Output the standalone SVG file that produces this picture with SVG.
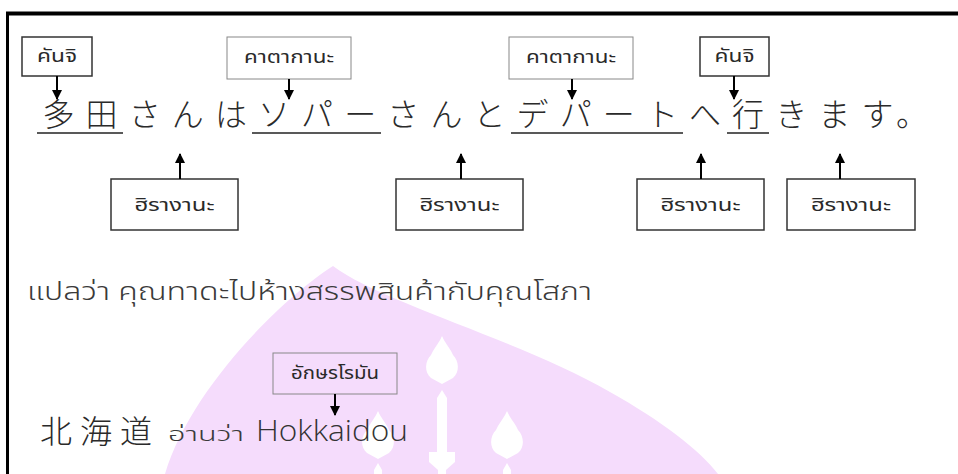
<svg xmlns="http://www.w3.org/2000/svg" xmlns:xlink="http://www.w3.org/1999/xlink" width="958" height="474" viewBox="0 0 958 474">
<defs>
<style>
.box-dark{fill:none;stroke:#333;stroke-width:1.5}
.box-gray{fill:none;stroke:#888;stroke-width:1}
.lbl{font-family:"Noto Sans Thai","Noto Sans",sans-serif;font-size:17px;font-weight:400;fill:#2a2a2a;text-anchor:middle}
.jp{font-family:"Noto Sans CJK JP","Noto Sans CJK SC",sans-serif;font-size:32px;font-weight:300;fill:#2a2a2a;text-anchor:middle}
.ul{stroke:#222;stroke-width:1.5}
.arr{stroke:#000;stroke-width:2;fill:none}
.th{font-family:"Noto Sans Thai","Noto Sans",sans-serif;font-weight:300;fill:#3a3a3a}
</style>
<marker id="ah" viewBox="0 0 10 10" refX="9" refY="5" markerWidth="5" markerHeight="5" orient="auto" markerUnits="strokeWidth">
<path d="M0,0 L10,5 L0,10 Z" fill="#000"/>
</marker>
<path id="leaf" d="M0,0 C2,5 6,10 9,15 L11,19 C17,25 18,36 11,42 L0,48 L-11,42 C-18,36 -17,25 -11,19 L-9,15 C-6,10 -2,5 0,0 Z" fill="#fff"/>
</defs>

<g id="watermark">
<path d="M333,266 C380,302 520,340 610,392 C660,420 700,450 718,474 L165,474 C190,390 280,300 333,266 Z" fill="#f5dcfc"/>
<use xlink:href="#leaf" x="442" y="336"/>
<path d="M442,390 L447,398 L447,452 L455,452 L455,462 L446,470 L446,474 L438,474 L438,470 L429,462 L429,452 L437,452 L437,398 Z" fill="#fff"/>
<use xlink:href="#leaf" x="378" y="411"/>
<path d="M378,463 L382,470 L382,474 L374,474 L374,470 Z" fill="#fff"/>
<use xlink:href="#leaf" x="507" y="411"/>
<path d="M507,463 L511,470 L511,474 L503,474 L503,470 Z" fill="#fff"/>
</g>

<g id="frame">
<line x1="6" y1="13.5" x2="958" y2="13.5" stroke="#000" stroke-width="4"/>
<line x1="7.5" y1="12" x2="7.5" y2="474" stroke="#000" stroke-width="3"/>
</g>

<g id="kanji1"><rect class="box-dark" x="22" y="37" width="70" height="39"/><text class="lbl" x="57" y="62" textLength="40" lengthAdjust="spacingAndGlyphs">คันจิ</text></g>
<g id="katakana1"><rect class="box-gray" x="227" y="37" width="124" height="42"/><text class="lbl" x="289" y="63" textLength="90" lengthAdjust="spacingAndGlyphs">คาตากานะ</text></g>
<g id="katakana2"><rect class="box-gray" x="509" y="37" width="124" height="42"/><text class="lbl" x="571" y="63" textLength="90" lengthAdjust="spacingAndGlyphs">คาตากานะ</text></g>
<g id="kanji2"><rect class="box-dark" x="700" y="37" width="69" height="39"/><text class="lbl" x="734.5" y="62" textLength="40" lengthAdjust="spacingAndGlyphs">คันจิ</text></g>

<g id="hira1"><rect class="box-dark" x="111" y="179" width="127" height="51"/><text class="lbl" x="174.5" y="211" textLength="80" lengthAdjust="spacingAndGlyphs">ฮิรางานะ</text></g>
<g id="hira2"><rect class="box-dark" x="396" y="179" width="127" height="51"/><text class="lbl" x="459.5" y="211" textLength="80" lengthAdjust="spacingAndGlyphs">ฮิรางานะ</text></g>
<g id="hira3"><rect class="box-dark" x="637" y="179" width="127" height="51"/><text class="lbl" x="700.5" y="211" textLength="80" lengthAdjust="spacingAndGlyphs">ฮิรางานะ</text></g>
<g id="hira4"><rect class="box-dark" x="787" y="179" width="128" height="51"/><text class="lbl" x="851" y="211" textLength="80" lengthAdjust="spacingAndGlyphs">ฮิรางานะ</text></g>

<g id="romaji"><rect class="box-gray" x="273" y="353" width="124" height="41"/><text class="lbl" x="335" y="379" font-weight="700" textLength="88" lengthAdjust="spacingAndGlyphs">อักษรโรมัน</text></g>

<g id="sentence">
<text class="jp" x="58.5 101.6 144.7 187.8 230.9 274 317.1 360.2 403.3 446.4 489.5 532.6 575.7 618.8 661.9 705 748.1 791.2 834.3 877.4 912" y="126">多田さんはソパーさんとデパートへ行きます。</text>
<line class="ul" x1="37" y1="133" x2="123" y2="133"/>
<line class="ul" x1="252" y1="133" x2="381" y2="133"/>
<line class="ul" x1="511" y1="133" x2="683" y2="133"/>
<line class="ul" x1="727" y1="133" x2="769" y2="133"/>
</g>

<g id="translation">
<text class="th" x="27" y="300" font-size="25" textLength="565" lengthAdjust="spacingAndGlyphs">แปลว่า คุณทาดะไปห้างสรรพสินค้ากับคุณโสภา</text>
</g>

<g id="hokkaido">
<text x="40" y="443" font-family="Noto Sans CJK JP,sans-serif" font-size="32" font-weight="300" fill="#2a2a2a" letter-spacing="8">北海道</text>
<text class="th" x="168" y="441" font-size="20" textLength="76" lengthAdjust="spacingAndGlyphs">อ่านว่า</text>
<text x="256" y="441" font-family="Open Sans,sans-serif" font-size="29" font-weight="300" fill="#333" textLength="152" lengthAdjust="spacingAndGlyphs">Hokkaidou</text>
</g>

<g id="connectors">
<line class="arr" x1="57" y1="76" x2="57" y2="99" marker-end="url(#ah)"/>
<line class="arr" x1="289" y1="79" x2="289" y2="99" marker-end="url(#ah)"/>
<line class="arr" x1="572" y1="79" x2="572" y2="99" marker-end="url(#ah)"/>
<line class="arr" x1="734" y1="76" x2="734" y2="99" marker-end="url(#ah)"/>
<line class="arr" x1="180" y1="179" x2="180" y2="154" marker-end="url(#ah)"/>
<line class="arr" x1="461" y1="179" x2="461" y2="154" marker-end="url(#ah)"/>
<line class="arr" x1="701" y1="179" x2="701" y2="154" marker-end="url(#ah)"/>
<line class="arr" x1="840" y1="179" x2="840" y2="154" marker-end="url(#ah)"/>
<line class="arr" x1="335" y1="394" x2="335" y2="415" marker-end="url(#ah)"/>
</g>
</svg>
